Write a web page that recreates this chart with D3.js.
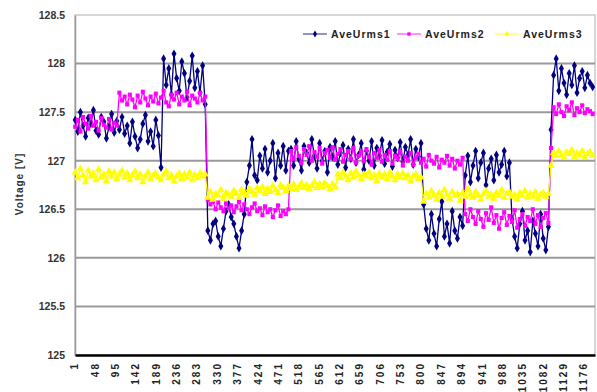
<!DOCTYPE html>
<html>
<head>
<meta charset="utf-8">
<script src="https://cdn.jsdelivr.net/npm/d3@7"></script>
<style>
  html, body { margin: 0; padding: 0; background: #fff; }
  svg { display: block; font-family: "Liberation Sans", Arial, sans-serif; }
</style>
</head>
<body>
<script>
// categories are sample numbers 1..1200, values below are read every 6th sample
const tickLabels = ['1','48','95','142','189','236','283','330','377','424','471','518','565',
  '612','659','706','753','800','847','894','941','988','1035','1082','1129','1176'];
const yTicks = [125, 125.5, 126, 126.5, 127, 127.5, 128, 128.5];
const seriesNames = ['AveUrms1', 'AveUrms2', 'AveUrms3'];
const seriesColors = ['#000080', '#ff00ff', '#ffff00'];

const aveUrms1 = [
  127.42,127.30,127.50,127.36,127.25,127.44,127.38,127.52,127.31,127.27,127.45,127.40,127.23,127.35,127.48,127.29,127.41,
  127.32,127.45,127.28,127.36,127.18,127.40,127.25,127.13,127.22,127.38,127.47,127.20,127.30,127.15,127.42,127.26,126.93,
  128.05,127.78,127.95,127.68,128.10,127.85,127.72,128.02,127.90,127.65,127.82,128.08,127.75,127.92,127.70,127.98,127.58,
  126.28,126.18,126.35,126.38,126.22,126.12,126.30,126.48,126.55,126.42,126.35,126.22,126.10,126.28,126.45,
  126.78,126.95,127.22,126.85,126.80,127.05,126.92,127.12,126.88,127.00,127.18,126.82,127.08,126.95,127.15,126.90,127.10,
  127.12,126.95,127.20,127.02,126.90,127.15,127.08,126.98,127.22,127.05,
  126.92,127.18,127.00,127.10,126.88,127.14,127.04,127.20,126.96,127.08,
  127.16,126.93,127.12,127.02,127.22,126.98,127.06,127.18,126.91,127.10,
  127.00,127.20,126.95,127.13,127.05,127.21,126.97,127.09,127.17,126.94,
  127.11,127.03,127.19,126.99,127.14,127.06,127.22,126.96,127.12,127.04,127.18,
  126.55,126.30,126.18,126.45,126.25,126.12,126.40,126.58,126.22,126.35,126.15,126.48,126.28,126.20,126.42,126.33,
  126.85,127.05,126.78,126.95,127.10,126.82,126.98,127.08,126.75,126.92,127.02,126.80,127.06,126.88,126.96,127.10,126.84,126.98,
  126.40,126.22,126.10,126.35,126.48,126.18,126.28,126.06,126.38,126.25,126.12,126.45,126.20,126.08,126.32,
  127.32,
  127.88,128.05,127.72,127.95,127.80,127.68,127.90,127.78,127.98,127.70,127.85,127.92,127.75,127.88,127.80,127.76
];

const aveUrms2 = [
  127.35,127.42,127.30,127.45,127.38,127.33,127.46,127.36,127.40,127.31,127.44,127.37,127.34,127.43,127.32,127.39,127.36,
  127.70,127.62,127.66,127.58,127.68,127.63,127.55,127.67,127.60,127.71,127.64,127.57,127.66,127.61,127.69,127.59,127.65,
  127.72,127.60,127.56,127.68,127.63,127.70,127.58,127.66,127.62,127.71,127.57,127.67,127.64,127.60,127.70,127.62,127.66,
  126.60,126.55,126.58,126.50,126.57,126.52,126.48,126.56,126.51,126.54,126.47,126.53,126.58,126.49,126.55,126.50,
  126.45,126.52,126.56,126.48,126.51,126.44,126.53,126.47,126.50,126.42,126.49,126.54,126.43,126.48,126.45,126.50,
  127.10,127.02,127.14,127.05,126.98,127.12,127.06,127.15,127.00,127.09,127.04,127.13,126.97,127.08,127.11,127.03,127.14,127.01,127.07,127.12,
  126.99,127.06,127.10,127.02,127.13,126.98,127.05,127.09,127.00,127.12,127.04,126.96,127.08,127.03,127.11,126.99,127.06,127.01,127.10,126.97,
  127.05,127.02,127.09,126.95,127.04,127.00,127.08,126.96,127.03,127.07,126.98,127.02,126.94,127.06,127.00,126.97,127.04,126.93,127.01,126.98,
  127.05,126.95,127.02,126.92,127.00,126.96,127.03,
  126.45,126.38,126.50,126.42,126.35,126.48,126.40,126.32,126.46,126.39,126.52,126.36,126.44,126.30,126.41,126.47,126.34,
  126.43,126.37,126.49,126.31,126.40,126.45,126.33,126.42,126.38,126.50,126.35,126.44,126.32,126.41,126.46,126.36,
  127.13,
  127.55,127.48,127.58,127.50,127.46,127.56,127.52,127.60,127.47,127.54,127.50,127.57,127.49,127.53,127.51,127.48
];

const aveUrms3 = [
  126.88,126.82,126.92,126.85,126.78,126.90,126.84,126.87,126.80,126.91,126.83,126.86,126.79,126.89,126.84,126.88,126.81,126.86,126.90,126.83,
  126.87,126.80,126.85,126.89,126.82,126.86,126.78,126.84,126.88,126.81,126.85,126.87,126.83,126.80,126.86,126.89,126.82,126.85,126.79,126.84,
  126.87,126.81,126.86,126.83,126.88,126.80,126.85,126.82,126.87,126.84,126.86,
  126.62,126.68,126.60,126.66,126.64,126.70,126.61,126.67,126.65,126.63,126.69,126.66,126.62,126.70,126.67,126.64,126.71,126.68,126.65,126.72,
  126.69,126.73,126.66,126.71,126.68,126.74,126.70,126.67,126.75,126.72,126.69,126.74,126.71,126.76,126.70,126.73,126.77,126.72,126.75,126.71,
  126.74,126.78,126.72,126.76,126.73,126.77,126.74,126.71,126.76,126.73,
  126.86,126.82,126.88,126.84,126.80,126.87,126.83,126.89,126.85,126.81,126.86,126.84,126.88,126.82,126.85,126.79,126.87,126.83,126.86,126.81,
  126.88,126.84,126.80,126.86,126.83,126.87,126.82,126.85,126.79,126.84,126.86,126.81,126.83,
  126.58,126.66,126.62,126.69,126.64,126.60,126.67,126.63,126.70,126.65,126.61,126.68,126.64,126.66,126.59,126.67,126.63,126.71,126.65,126.62,
  126.68,126.64,126.60,126.66,126.69,126.63,126.65,126.61,126.67,126.64,126.70,126.62,126.66,126.68,126.63,126.65,126.60,126.67,126.64,126.69,
  126.62,126.66,126.63,126.68,126.61,126.65,126.67,126.63,126.66,
  126.95,
  127.08,127.05,127.10,127.06,127.03,127.09,127.07,127.11,127.04,127.08,127.06,127.10,127.03,127.07,127.09,127.05
];

const sampleIdx = d3.range(1, 1201, 6);
const allSeries = [aveUrms1, aveUrms2, aveUrms3];

const width = 597, height = 392;
const plot = { left: 75, right: 595, top: 15, bottom: 355 };

const svg = d3.select('body').append('svg')
  .attr('width', width)
  .attr('height', height);

const x = d3.scaleLinear().domain([0.5, 1200.5]).range([plot.left, plot.right]);
const y = d3.scaleLinear().domain([125, 128.5]).range([plot.bottom, plot.top]);

// frame
svg.append('rect')
  .attr('x', plot.left).attr('y', plot.top)
  .attr('width', plot.right - plot.left).attr('height', plot.bottom - plot.top)
  .attr('fill', 'none').attr('stroke', '#c8c8c8').attr('stroke-width', 1.5);

// gridlines
svg.append('g')
  .selectAll('line')
  .data(yTicks.filter(d => d > 125 && d < 128.5))
  .enter().append('line')
  .attr('x1', plot.left).attr('x2', plot.right)
  .attr('y1', d => y(d)).attr('y2', d => y(d))
  .attr('stroke', '#9a9a9a').attr('stroke-width', 2);

// y axis
const yAxis = svg.append('g')
  .attr('transform', `translate(${plot.left},0)`)
  .call(d3.axisLeft(y).tickValues(yTicks).tickSize(0).tickPadding(10).tickFormat(d => d));
yAxis.select('.domain').attr('stroke', '#999').attr('stroke-width', 1.5);
yAxis.selectAll('text')
  .attr('fill', '#333').attr('font-size', 10.5).attr('font-weight', 'bold')
  .attr('font-family', '"Liberation Sans", Arial, sans-serif');

// x axis
const xAxis = svg.append('g')
  .attr('transform', `translate(0,${plot.bottom})`)
  .call(d3.axisBottom(x).tickValues(tickLabels.map(Number)).tickSize(0).tickFormat((d, i) => tickLabels[i]));
xAxis.select('.domain').attr('stroke', '#000').attr('stroke-width', 2.5);
xAxis.selectAll('text')
  .attr('fill', '#222').attr('font-size', 10).attr('font-weight', 'bold')
  .attr('font-family', '"Liberation Sans", Arial, sans-serif')
  .attr('letter-spacing', 2)
  .attr('text-anchor', 'end')
  .attr('dy', '0.35em')
  .attr('transform', 'translate(-1,7) rotate(-90)')
  .attr('x', 0).attr('y', 0);

// y title
svg.append('text')
  .attr('transform', 'translate(23,184) rotate(-90)')
  .attr('text-anchor', 'middle')
  .attr('font-size', 10).attr('font-weight', 'bold').attr('letter-spacing', 1)
  .attr('fill', '#333')
  .text('Voltage [V]');

// series
const line = d3.line()
  .x((d, i) => x(sampleIdx[i]))
  .y(d => y(d));
const symbols = [d3.symbolDiamond, d3.symbolSquare, d3.symbolTriangle];
const symbolSize = [22, 17, 24];

allSeries.forEach((vals, s) => {
  const g = svg.append('g');
  g.append('path')
    .attr('d', line(vals))
    .attr('fill', 'none')
    .attr('stroke', seriesColors[s])
    .attr('stroke-width', 1.3);
  g.selectAll('path.pt')
    .data(vals)
    .enter().append('path')
    .attr('class', 'pt')
    .attr('transform', (d, i) => `translate(${x(sampleIdx[i])},${y(d)})`)
    .attr('d', d3.symbol().type(symbols[s]).size(symbolSize[s]))
    .attr('fill', seriesColors[s]);
});

// legend
const legendX = [303, 397, 495];
const legendSym = [14, 11, 13];
const legend = svg.append('g').attr('transform', 'translate(0,34)');
seriesNames.forEach((name, s) => {
  const g = legend.append('g').attr('transform', `translate(${legendX[s]},0)`);
  g.append('line').attr('x1', 0).attr('x2', 24).attr('y1', 0).attr('y2', 0)
    .attr('stroke', seriesColors[s]).attr('stroke-width', 1.2).attr('opacity', 0.7);
  g.append('path').attr('transform', 'translate(12,0)')
    .attr('d', d3.symbol().type(symbols[s]).size(legendSym[s]))
    .attr('fill', seriesColors[s]);
  g.append('text').attr('x', 28).attr('dy', '0.35em')
    .attr('font-size', 10.5).attr('font-weight', 'bold').attr('letter-spacing', 1)
    .attr('fill', '#222')
    .text(name);
});
</script>
</body>
</html>
